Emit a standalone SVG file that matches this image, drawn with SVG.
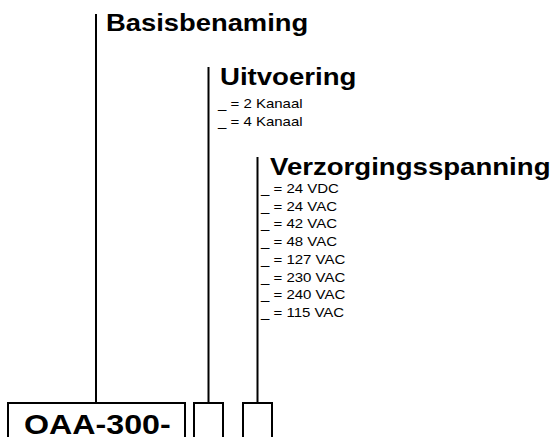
<svg xmlns="http://www.w3.org/2000/svg" width="557" height="437" viewBox="0 0 557 437">
  <style>
    .head { font-family: "Liberation Sans", Arial, sans-serif; font-weight: bold; font-size: 23px; fill: #000; }
    .item { font-family: "Liberation Sans", Arial, sans-serif; font-size: 12.5px; fill: #000; }
    .code { font-family: "Liberation Sans", Arial, sans-serif; font-weight: bold; font-size: 28px; fill: #000; }
    .wire { stroke: #000; stroke-width: 2; fill: none; }
    .box { stroke: #000; stroke-width: 2; fill: #fff; }
  </style>
  <rect width="557" height="437" fill="#fff"/>

  <!-- connectors from each field to its label -->
  <g id="connectors">
    <line class="wire" x1="96" y1="14" x2="96" y2="403"/>
    <line class="wire" x1="208.5" y1="67" x2="208.5" y2="403"/>
    <line class="wire" x1="257.5" y1="157" x2="257.5" y2="403"/>
  </g>

  <!-- order code fields -->
  <g id="field-base">
    <rect class="box" x="8" y="403" width="177" height="50"/>
    <text class="code" transform="translate(24,434) scale(1.15,1)">OAA-300-</text>
  </g>
  <g id="field-uitvoering">
    <rect class="box" x="194" y="403" width="29" height="50"/>
  </g>
  <g id="field-spanning">
    <rect class="box" x="243" y="403" width="29" height="50"/>
  </g>

  <!-- labels -->
  <g id="label-basis">
    <text class="head" transform="translate(106,31) scale(1.19,1)">Basisbenaming</text>
  </g>
  <g id="label-uitvoering">
    <text class="head" transform="translate(220,85) scale(1.2,1)">Uitvoering</text>
    <text class="item" transform="translate(218,108) scale(1.2,1)">_ = 2 Kanaal</text>
    <text class="item" transform="translate(218,126) scale(1.2,1)">_ = 4 Kanaal</text>
  </g>
  <g id="label-spanning">
    <text class="head" transform="translate(270,175) scale(1.2,1)">Verzorgingsspanning</text>
    <text class="item" transform="translate(261,193) scale(1.2,1)">_ = 24 VDC</text>
    <text class="item" transform="translate(261,210.7) scale(1.2,1)">_ = 24 VAC</text>
    <text class="item" transform="translate(261,228.4) scale(1.2,1)">_ = 42 VAC</text>
    <text class="item" transform="translate(261,246.1) scale(1.2,1)">_ = 48 VAC</text>
    <text class="item" transform="translate(261,263.8) scale(1.2,1)">_ = 127 VAC</text>
    <text class="item" transform="translate(261,281.5) scale(1.2,1)">_ = 230 VAC</text>
    <text class="item" transform="translate(261,299.2) scale(1.2,1)">_ = 240 VAC</text>
    <text class="item" transform="translate(261,316.9) scale(1.2,1)">_ = 115 VAC</text>
  </g>
</svg>
